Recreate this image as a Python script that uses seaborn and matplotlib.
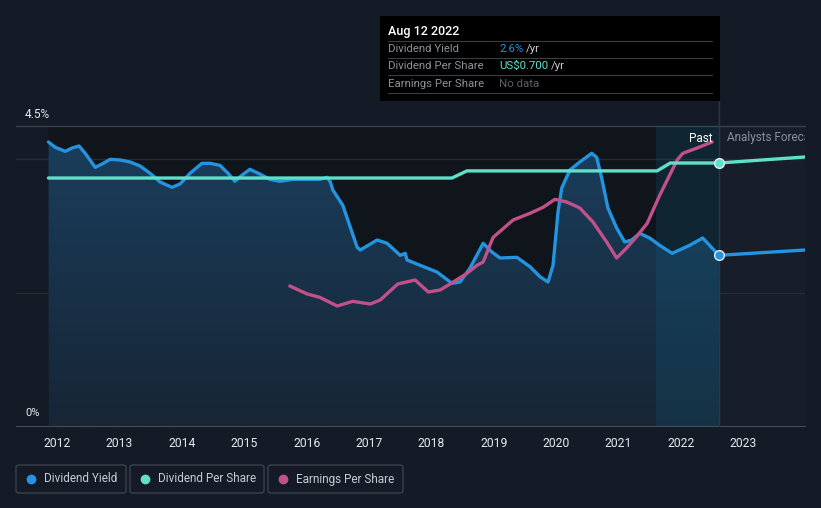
import numpy as np
import pandas as pd
import matplotlib
matplotlib.use("Agg")
import matplotlib.pyplot as plt
from matplotlib.patches import Rectangle, FancyBboxPatch
from matplotlib.lines import Line2D
import seaborn as sns

# ---------------- data ----------------
yield_years = [2011.86, 2011.97, 2012.13, 2012.24, 2012.35, 2012.45, 2012.61, 2012.72, 2012.85,
               2013.01, 2013.17, 2013.33, 2013.49, 2013.65, 2013.84, 2013.97, 2014.13, 2014.32,
               2014.45, 2014.61, 2014.74, 2014.85, 2014.96, 2015.09, 2015.25, 2015.41, 2015.57,
               2015.78, 2016.01, 2016.21, 2016.33, 2016.38, 2016.42, 2016.58, 2016.70, 2016.81,
               2016.86, 2017.13, 2017.29, 2017.50, 2017.58, 2017.61, 2017.82, 2018.09, 2018.33,
               2018.46, 2018.62, 2018.83, 2018.97, 2019.10, 2019.37, 2019.58, 2019.74, 2019.87,
               2019.95, 2020.03, 2020.09, 2020.22, 2020.38, 2020.57, 2020.65, 2020.73, 2020.83,
               2020.97, 2021.10, 2021.21, 2021.34, 2021.50, 2021.66, 2021.86, 2022.14, 2022.35,
               2022.46, 2022.61]
yield_pct = [4.26, 4.18, 4.12, 4.17, 4.20, 4.09, 3.88, 3.93, 4.00,
             3.99, 3.96, 3.90, 3.79, 3.66, 3.58, 3.63, 3.79, 3.94,
             3.94, 3.91, 3.79, 3.67, 3.76, 3.85, 3.78, 3.70, 3.67,
             3.70, 3.70, 3.70, 3.73, 3.66, 3.54, 3.31, 2.98, 2.68,
             2.64, 2.79, 2.74, 2.56, 2.59, 2.49, 2.41, 2.31, 2.14,
             2.16, 2.37, 2.74, 2.61, 2.52, 2.53, 2.39, 2.24, 2.16,
             2.41, 3.21, 3.57, 3.84, 3.96, 4.09, 4.03, 3.72, 3.27,
             2.97, 2.76, 2.79, 2.89, 2.82, 2.71, 2.59, 2.71, 2.82,
             2.71, 2.56]
yield_fc_years = [2022.61, 2023.99]
yield_fc_pct = [2.56, 2.64]

dps_years = [2011.86, 2018.33, 2018.57, 2021.62, 2021.83, 2022.61]
dps_usd = [0.660, 0.660, 0.679, 0.679, 0.700, 0.700]
dps_fc_years = [2022.61, 2023.99]
dps_fc_usd = [0.700, 0.716]

eps_years = [2015.73, 2016.01, 2016.21, 2016.49, 2016.74, 2017.02, 2017.18, 2017.46, 2017.74,
             2017.95, 2018.14, 2018.30, 2018.57, 2018.73, 2018.83, 2018.99, 2019.31, 2019.58,
             2019.79, 2019.98, 2020.17, 2020.38, 2020.59, 2020.81, 2020.97, 2021.13, 2021.28,
             2021.46, 2021.66, 2021.94, 2022.03, 2022.26, 2022.50]
eps_rel = [2.10, 1.98, 1.93, 1.80, 1.87, 1.83, 1.89, 2.13, 2.19,
           2.01, 2.04, 2.13, 2.29, 2.41, 2.46, 2.83, 3.09, 3.19,
           3.28, 3.40, 3.36, 3.27, 3.06, 2.76, 2.52, 2.67, 2.83,
           3.04, 3.46, 3.99, 4.09, 4.17, 4.26]

year_ticks = list(range(2012, 2024))
today = 2022.61

# ---------------- style ----------------
BG = "#151b26"
BLUE = "#2394df"
TEAL = "#5fe0c9"
MAG = "#c2508a"

sns.set_style("dark")
plt.rcParams["font.family"] = ["Roboto", "DejaVu Sans"]

W, H = 821, 508
fig = plt.figure(figsize=(W / 100, H / 100), dpi=100, facecolor=BG)

def fx(x):
    return x / W

def fy(y):
    return 1 - y / H

ax = fig.add_axes([fx(16), fy(426), fx(805) - fx(16), fy(126) - fy(426)])
ax.set_facecolor(BG)
ax.set_xlim(2011.34, 2023.99)
ax.set_ylim(0, 4.5)

# background zones
ax.axvspan(2011.86, today, color="#10141b", zorder=0, lw=0)
ax.axvspan(today, 2023.99, color="#181e29", zorder=0, lw=0)

# gridlines
for v in (4.0, 2.0):
    ax.axhline(v, color="#262b34", lw=1, zorder=1)
ax.axhline(4.5, color="#3b404a", lw=1, zorder=1, clip_on=False)

# gradient fill under yield
grad = np.linspace(0, 1, 256).reshape(-1, 1)
cmap = matplotlib.colors.LinearSegmentedColormap.from_list("g", ["#172535", "#1a3f5e"])
img = ax.imshow(grad, aspect="auto", cmap=cmap, origin="lower",
                extent=[2011.86, today, 0, 4.5], zorder=2)
poly = ax.fill_between(yield_years, yield_pct, 0, color="none", lw=0)
img.set_clip_path(poly.get_paths()[0], transform=ax.transData)

# highlight band (last year)
ax.axvspan(2021.6, today, color="#0f6a8a", alpha=0.2, zorder=3, lw=0)

# vertical "today" line
ax.axvline(today, ymin=0, ymax=(426 - 101) / 300, color="#27394a", lw=1, zorder=3, clip_on=False)

line_kw = dict(lw=2.4, solid_joinstyle="round", solid_capstyle="round")

df_y = pd.DataFrame({"year": yield_years, "v": yield_pct})
df_yf = pd.DataFrame({"year": yield_fc_years, "v": yield_fc_pct})
df_e = pd.DataFrame({"year": eps_years, "v": eps_rel})
sns.lineplot(data=df_y, x="year", y="v", ax=ax, color=BLUE, zorder=5, **line_kw)
sns.lineplot(data=df_yf, x="year", y="v", ax=ax, color=BLUE, zorder=5, **line_kw)
sns.lineplot(data=df_e, x="year", y="v", ax=ax, color=MAG, zorder=6, **line_kw)
ax.plot([today], [yield_pct[-1]], "o", ms=7, color=BLUE, mec="#e8eef5", mew=1, zorder=8)

ax2 = ax.twinx()
ax2.set_ylim(0, 0.7 * 4.5 / 3.945)
ax2.patch.set_visible(False)
df_d = pd.DataFrame({"year": dps_years, "v": dps_usd})
df_df = pd.DataFrame({"year": dps_fc_years, "v": dps_fc_usd})
sns.lineplot(data=df_d, x="year", y="v", ax=ax2, color=TEAL, zorder=5, **line_kw)
sns.lineplot(data=df_df, x="year", y="v", ax=ax2, color=TEAL, zorder=5, **line_kw)
ax2.plot([today], [dps_usd[-1]], "o", ms=7, color=TEAL, mec="#e8eef5", mew=1, zorder=8)
ax2.set_yticks([])
ax2.set_ylabel("")
for s in ax2.spines.values():
    s.set_visible(False)

# axes cosmetics
ax.set_xlabel("")
ax.set_ylabel("")
ax.set_yticks([])
ax.set_xticks(year_ticks)
ax.set_xticklabels([str(y) for y in year_ticks], color="#e6e9ee", fontsize=8.7)
ax.tick_params(axis="x", length=5, width=1, color="#454b55", pad=3)
for k, s in ax.spines.items():
    s.set_visible(k == "bottom")
ax.spines["bottom"].set_color("#454b55")
ax.grid(False)

# y labels
fig.text(fx(25), fy(115), "4.5%", color="#e6e9ee", fontsize=8.5, va="center", ha="left")
fig.text(fx(25), fy(413), "0%", color="#e6e9ee", fontsize=8, va="center", ha="left")

# Past / forecast labels
fig.text(fx(712), fy(138), "Past", color="#ffffff", fontsize=8.5, ha="right", va="center")
t = fig.text(fx(727), fy(138), "Analysts Forecasts", color="#8a9099", fontsize=8.5,
             ha="left", va="center")
t.set_clip_box(matplotlib.transforms.Bbox.from_extents(0, 0, 805, H))
t.set_clip_on(True)

# tooltip
fig.patches.append(Rectangle((fx(380), fy(101)), fx(720) - fx(380), fy(16) - fy(101),
                             transform=fig.transFigure, facecolor="#000000", edgecolor="none",
                             zorder=10))
fig.text(fx(388), fy(31), "Aug 12 2022", color="#ffffff", fontsize=9, fontweight="medium",
         va="center", zorder=11)
for yy in [41, 58, 75, 93]:
    fig.add_artist(Line2D([fx(388), fx(712)], [fy(yy), fy(yy)], color="#3a3d42", lw=0.8, zorder=11))
rows = [("Dividend Yield", "2.6%", BLUE, 49), ("Dividend Per Share", "US$0.700", TEAL, 66),
        ("Earnings Per Share", None, None, 84)]
for lab, val, col, yy in rows:
    fig.text(fx(388), fy(yy), lab, color="#8c9199", fontsize=8.2, va="center", zorder=11)
    if val is None:
        fig.text(fx(499), fy(yy), "No data", color="#5d6269", fontsize=8.2, va="center", zorder=11)
    else:
        tv = fig.text(fx(499), fy(yy), val, color=col, fontsize=8.2, va="center", zorder=11)
        fig.canvas.draw()
        bb = tv.get_window_extent()
        fig.text(bb.x1 / W + 3 / W, fy(yy), "/yr", color="#c9ccd1", fontsize=8.2, va="center",
                 zorder=11)

# legend
legend_items = [("Dividend Yield", BLUE, 16, 126), ("Dividend Per Share", TEAL, 130, 264),
                ("Earnings Per Share", MAG, 268, 403)]
for lab, col, x0, x1 in legend_items:
    fig.patches.append(FancyBboxPatch((fx(x0), fy(493)), fx(x1) - fx(x0), fy(465) - fy(493),
                                      boxstyle="round,pad=0,rounding_size=0.004",
                                      transform=fig.transFigure, facecolor="none",
                                      edgecolor="#3b404a", lw=1))
    fig.add_artist(Line2D([fx(x0 + 15)], [fy(479)], marker="o", ms=6, color=col, lw=0))
    fig.text(fx(x0 + 28), fy(479), lab, color="#c8ccd2", fontsize=8.5, va="center")

fig.savefig("out.png", dpi=100, facecolor=BG)
